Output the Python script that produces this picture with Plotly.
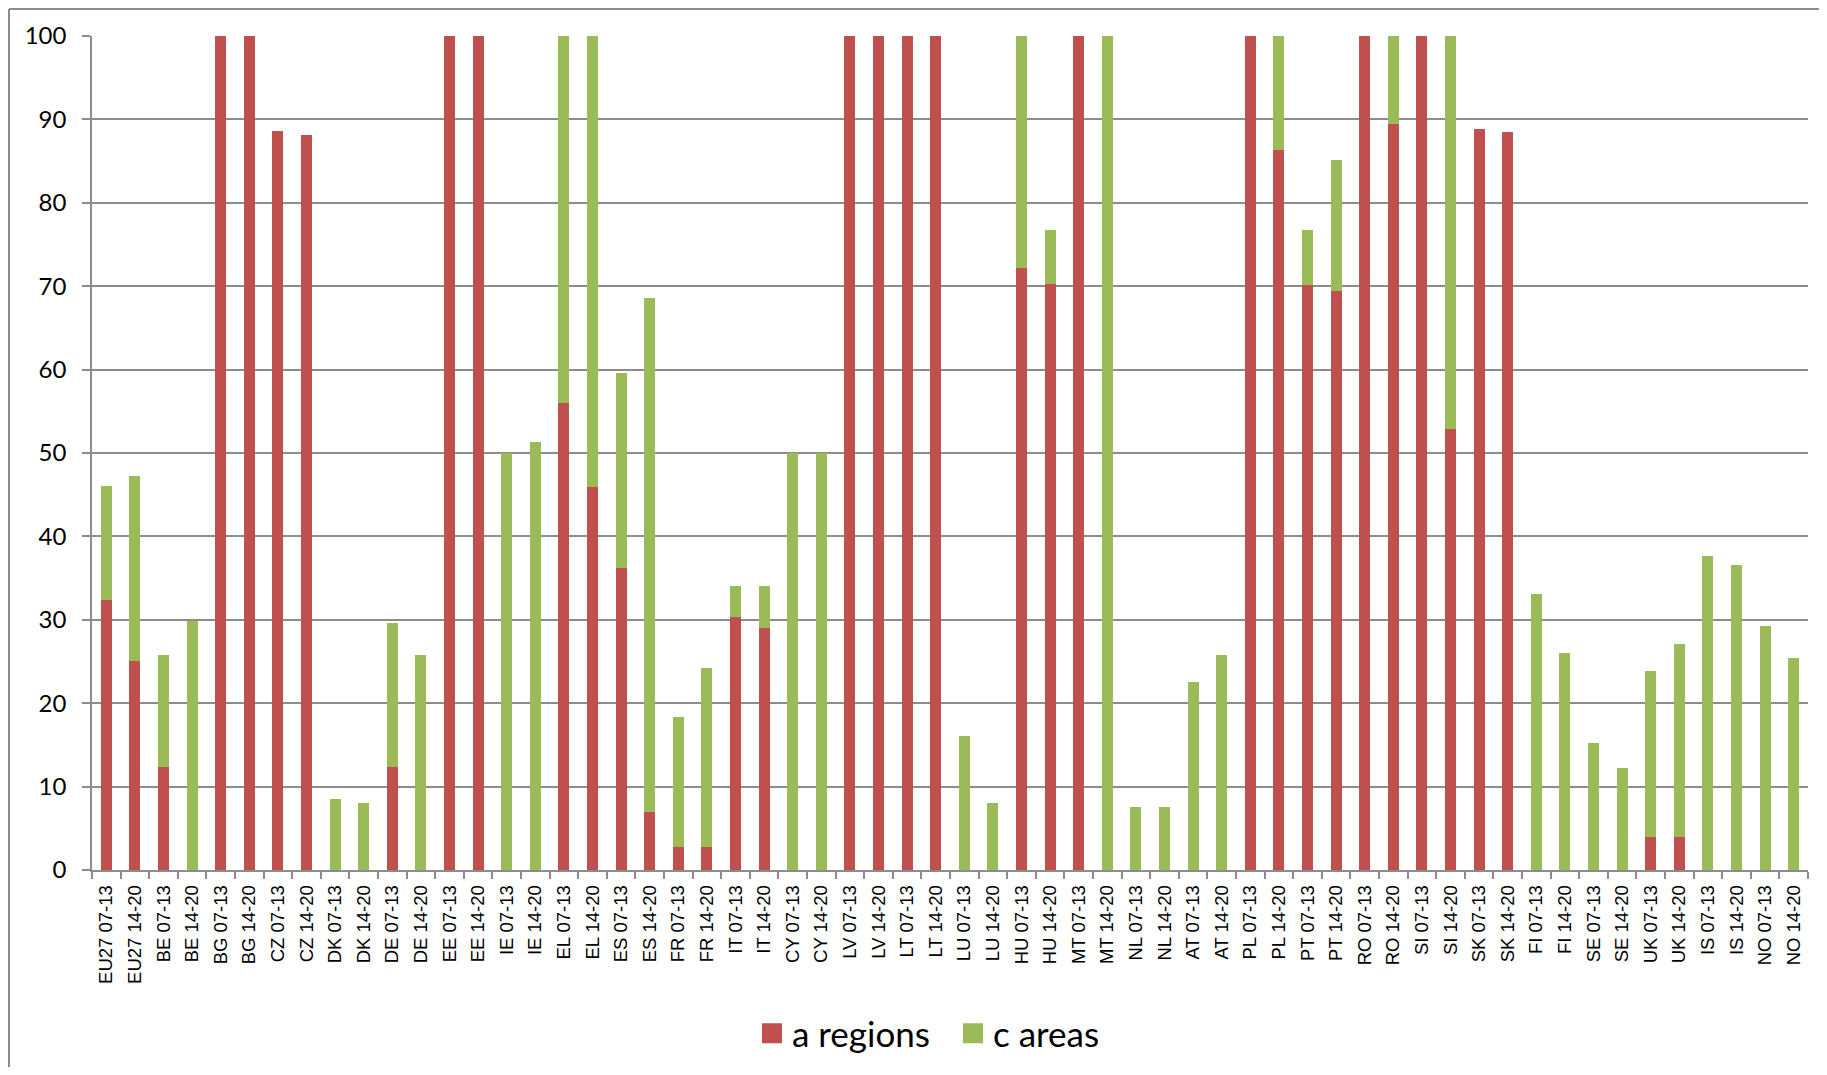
import plotly.graph_objects as go

categories = [
    "EU27 07-13", "EU27 14-20", "BE 07-13", "BE 14-20", "BG 07-13", "BG 14-20",
    "CZ 07-13", "CZ 14-20", "DK 07-13", "DK 14-20", "DE 07-13", "DE 14-20",
    "EE 07-13", "EE 14-20", "IE 07-13", "IE 14-20", "EL 07-13", "EL 14-20",
    "ES 07-13", "ES 14-20", "FR 07-13", "FR 14-20", "IT 07-13", "IT 14-20",
    "CY 07-13", "CY 14-20", "LV 07-13", "LV 14-20", "LT 07-13", "LT 14-20",
    "LU 07-13", "LU 14-20", "HU 07-13", "HU 14-20", "MT 07-13", "MT 14-20",
    "NL 07-13", "NL 14-20", "AT 07-13", "AT 14-20", "PL 07-13", "PL 14-20",
    "PT 07-13", "PT 14-20", "RO 07-13", "RO 14-20", "SI 07-13", "SI 14-20",
    "SK 07-13", "SK 14-20", "FI 07-13", "FI 14-20", "SE 07-13", "SE 14-20",
    "UK 07-13", "UK 14-20", "IS 07-13", "IS 14-20", "NO 07-13", "NO 14-20",
]

a_regions = [
    32.4, 25.1, 12.3, 0, 100, 100,
    88.6, 88.1, 0, 0, 12.4, 0,
    100, 100, 0, 0, 56.0, 45.9,
    36.2, 7.0, 2.8, 2.8, 30.3, 29.0,
    0, 0, 100, 100, 100, 100,
    0, 0, 72.2, 70.3, 100, 0,
    0, 0, 0, 0, 100, 86.3,
    70.1, 69.4, 100, 89.5, 100, 52.9,
    88.9, 88.5, 0, 0, 0, 0,
    3.9, 3.9, 0, 0, 0, 0,
]

c_areas = [
    13.7, 22.1, 13.5, 29.9, 0, 0,
    0, 0, 8.5, 8.0, 17.2, 25.8,
    0, 0, 50.0, 51.3, 44.0, 54.1,
    23.4, 61.6, 15.5, 21.4, 3.8, 5.1,
    50.0, 50.0, 0, 0, 0, 0,
    16.1, 8.0, 27.8, 6.4, 0, 100,
    7.5, 7.5, 22.5, 25.8, 0, 13.7,
    6.6, 15.7, 0, 10.5, 0, 47.1,
    0, 0, 33.1, 26.0, 15.2, 12.2,
    20.0, 23.2, 37.6, 36.6, 29.2, 25.4,
]

series_names = ["a regions", "c areas"]
y_ticks = [0, 10, 20, 30, 40, 50, 60, 70, 80, 90, 100]

RED = "#C0504D"
GREEN = "#9BBB59"
GRID = "#8C8C8C"

W, H = 1811, 1059
L, R, T, B = 84, 11, 28, 197

fig = go.Figure()
for name, vals, col in zip(series_names, [a_regions, c_areas], [RED, GREEN]):
    fig.add_trace(go.Bar(x=categories, y=vals, name=name, legendgroup=name,
                         showlegend=False,
                         marker=dict(color=col, line=dict(width=0))))
# legend entries with larger square symbols
for name, col in zip(series_names, [RED, GREEN]):
    fig.add_trace(go.Scatter(x=[None], y=[None], name=name, legendgroup=name,
                             mode="markers", showlegend=True,
                             marker=dict(symbol="square", size=16, color=col,
                                         line=dict(color=col, width=4))))

plot_w = W - L - R
plot_h = H - T - B
x_border = (1 - L) / plot_w
y_border = 1 + (T - 1) / plot_h
y_bottom = -(B + 10) / plot_h

fig.update_layout(
    width=W, height=H,
    margin=dict(l=L, r=R, t=T, b=B, pad=0, autoexpand=False),
    barmode="stack",
    bargap=0.615,
    plot_bgcolor="white",
    paper_bgcolor="white",
    showlegend=True,
    legend=dict(orientation="h", x=0.3846, xanchor="left", y=-0.196,
                yanchor="middle", font=dict(family="Lato", size=35, color="#000000"),
                itemwidth=30, entrywidth=156, traceorder="normal"),
    xaxis=dict(
        type="category",
        tickangle=-90,
        tickfont=dict(family="Liberation Sans", size=18.5, color="#000000"),
        showline=True, linecolor=GRID, linewidth=1.5,
        ticks="outside", ticklen=7, tickcolor=GRID, tickwidth=1.5,
        tickson="boundaries",
        showgrid=False,
        ticklabelstandoff=6,
        automargin=False,
        range=[-0.5, len(categories) - 0.5],
    ),
    yaxis=dict(
        range=[0, 100],
        tickvals=y_ticks,
        tickfont=dict(family="Lato", size=24, color="#000000"),
        showline=True, linecolor=GRID, linewidth=1.5,
        ticks="outside", ticklen=8, tickcolor=GRID, tickwidth=1.5,
        showgrid=True, gridcolor=GRID, gridwidth=1.5,
        zeroline=False,
        automargin=False,
        ticklabelstandoff=11,
    ),
    shapes=[
        dict(type="line", xref="paper", yref="paper",
             x0=x_border, x1=x_border, y0=y_bottom, y1=y_border,
             line=dict(color="#8C8C8C", width=2)),
        dict(type="line", xref="paper", yref="paper",
             x0=x_border, x1=1 + (R + 10) / plot_w, y0=y_border, y1=y_border,
             line=dict(color="#8C8C8C", width=2)),
    ],
)

fig.write_html("out.html")
